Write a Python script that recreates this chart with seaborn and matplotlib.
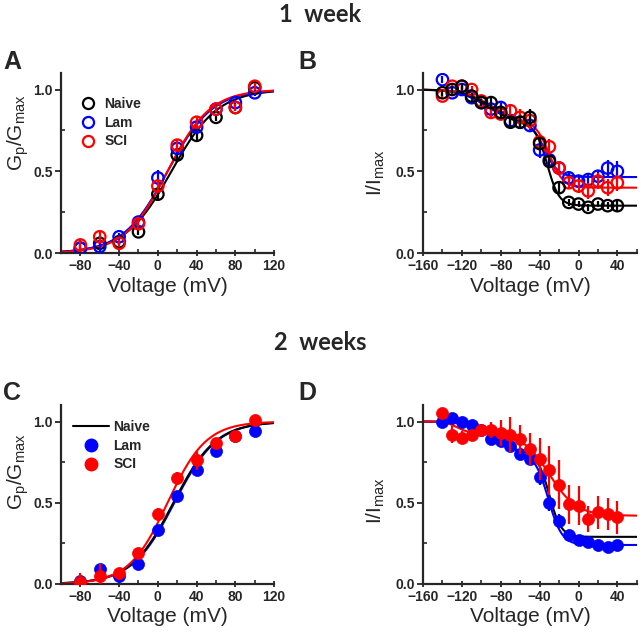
import matplotlib
matplotlib.use("Agg")
import matplotlib.pyplot as plt
from matplotlib.lines import Line2D
from matplotlib.ticker import MultipleLocator
import seaborn as sns
import numpy as np

# voltages (mV)
v_act = [-80, -60, -40, -20, 0, 20, 40, 60, 80, 100]
v_inact = [-140, -130, -120, -110, -100, -90, -80, -70, -60, -50,
           -40, -30, -20, -10, 0, 10, 20, 30, 40]

# 1 week, activation (G/Gmax)
a_naive = [0.03, 0.06, 0.07, 0.13, 0.36, 0.60, 0.72, 0.83, 0.89, 1.01]
a_naive_err = [0.02, 0.03, 0.02, 0.02, 0.03, 0.03, 0.03, 0.02, 0.02, 0.02]
a_lam = [0.03, 0.04, 0.10, 0.19, 0.46, 0.64, 0.77, 0.88, 0.92, 0.98]
a_lam_err = [0.02, 0.03, 0.02, 0.02, 0.05, 0.03, 0.03, 0.02, 0.02, 0.02]
a_sci = [0.05, 0.10, 0.06, 0.18, 0.41, 0.66, 0.80, 0.88, 0.89, 1.02]
a_sci_err = [0.03, 0.04, 0.02, 0.03, 0.03, 0.03, 0.03, 0.02, 0.02, 0.02]

# 1 week, inactivation (I/Imax)
b_naive = [0.98, 1.00, 1.02, 0.96, 0.92, 0.92, 0.86, 0.80, 0.80, 0.83,
           0.67, 0.56, 0.40, 0.31, 0.30, 0.28, 0.30, 0.29, 0.29]
b_naive_err = [0.02, 0.02, 0.02, 0.02, 0.02, 0.03, 0.03, 0.03, 0.03, 0.05,
               0.03, 0.03, 0.03, 0.02, 0.02, 0.02, 0.02, 0.02, 0.03]
b_lam = [1.06, 0.98, 1.00, 0.95, 0.92, 0.88, 0.89, 0.81, 0.80, 0.78,
         0.63, 0.57, 0.52, 0.46, 0.44, 0.45, 0.47, 0.52, 0.50]
b_lam_err = [0.02, 0.02, 0.02, 0.02, 0.03, 0.03, 0.03, 0.03, 0.03, 0.03,
             0.05, 0.03, 0.03, 0.04, 0.04, 0.04, 0.04, 0.05, 0.06]
b_sci = [0.96, 1.02, 1.02, 1.00, 0.93, 0.86, 0.85, 0.87, 0.83, 0.81,
         0.68, 0.65, 0.52, 0.43, 0.41, 0.38, 0.44, 0.40, 0.43]
b_sci_err = [0.02, 0.02, 0.02, 0.02, 0.03, 0.04, 0.03, 0.04, 0.05, 0.05,
             0.05, 0.05, 0.04, 0.04, 0.04, 0.05, 0.05, 0.05, 0.05]

# 2 weeks, activation
c_lam = [0.02, 0.09, 0.05, 0.12, 0.33, 0.54, 0.70, 0.82, 0.91, 0.94]
c_lam_err = [0.02, 0.02, 0.02, 0.02, 0.02, 0.03, 0.02, 0.02, 0.02, 0.02]
c_sci = [0.01, 0.05, 0.07, 0.19, 0.43, 0.65, 0.76, 0.87, 0.91, 1.01]
c_sci_err = [0.06, 0.07, 0.02, 0.02, 0.04, 0.04, 0.06, 0.02, 0.02, 0.02]

# 2 weeks, inactivation
d_lam = [1.00, 1.02, 1.00, 0.98, 0.95, 0.89, 0.88, 0.85, 0.80, 0.77,
         0.66, 0.50, 0.39, 0.30, 0.27, 0.26, 0.24, 0.23, 0.24]
d_lam_err = [0.02, 0.02, 0.02, 0.02, 0.02, 0.03, 0.03, 0.03, 0.03, 0.03,
             0.05, 0.05, 0.04, 0.03, 0.02, 0.02, 0.02, 0.02, 0.02]
d_sci = [1.05, 0.92, 0.90, 0.92, 0.95, 0.95, 0.93, 0.92, 0.89, 0.83,
         0.77, 0.70, 0.61, 0.49, 0.48, 0.40, 0.44, 0.43, 0.41]
d_sci_err = [0.02, 0.05, 0.04, 0.03, 0.03, 0.05, 0.08, 0.11, 0.09, 0.10,
             0.13, 0.15, 0.15, 0.12, 0.12, 0.08, 0.10, 0.10, 0.10]

# Boltzmann fit parameters: (V1/2, k)
fit_a = {"Naive": (14, 24), "Lam": (10, 23), "SCI": (10, 22)}
fit_c = {"Naive": (16, 22), "Lam": (17, 22), "SCI": (10, 20)}
# double Boltzmann for inactivation: (bottom, a1, v1, k1, v2, k2)
fit_b = {"Naive": (0.29, 0.22, -90, 14, -32, 6),
         "Lam": (0.465, 0.20, -95, 14, -35, 7),
         "SCI": (0.40, 0.20, -90, 14, -30, 7)}
fit_d = {"Naive": (0.29, 0.20, -85, 12, -30, 6),
         "Lam": (0.24, 0.20, -85, 12, -31, 7),
         "SCI": (0.42, 0.07, -125, 6, -30, 14)}

colors = {"Naive": "black", "Lam": "#0000ff", "SCI": "#ff0000"}


def boltz(v, vh, k):
    return 1 / (1 + np.exp((vh - v) / k))


def inact(v, b, a1, v1, k1, v2, k2):
    a2 = 1 - b - a1
    return b + a1 / (1 + np.exp((v - v1) / k1)) + a2 / (1 + np.exp((v - v2) / k2))


sns.set_style("ticks")
plt.rcParams['font.family'] = ['Liberation Sans', 'DejaVu Sans']
plt.rcParams['mathtext.fontset'] = 'custom'
plt.rcParams['mathtext.rm'] = 'Liberation Sans'
plt.rcParams['mathtext.it'] = 'Liberation Sans'

fig = plt.figure(figsize=(6.4, 6.36), dpi=100)
axA = fig.add_axes([0.0953, 0.602, 0.333, 0.283])
axB = fig.add_axes([0.661, 0.602, 0.334, 0.283])
axC = fig.add_axes([0.0953, 0.0818, 0.333, 0.281])
axD = fig.add_axes([0.661, 0.0818, 0.334, 0.281])

xa = np.linspace(-100, 120, 221)
xb = np.linspace(-160, 60, 221)


def points(ax, x, y, err, c, filled, z):
    ax.errorbar(x, y, yerr=err, fmt='none', ecolor=c, elinewidth=1.6,
                capsize=0, zorder=z)
    if filled:
        sns.scatterplot(x=x, y=y, ax=ax, color=c, edgecolor=c, s=75,
                        linewidth=0.5, zorder=z + 0.5, legend=False)
    else:
        sns.scatterplot(x=x, y=y, ax=ax, color=c, facecolor='none',
                        edgecolor=c, s=68, linewidth=1.6, zorder=z + 0.5,
                        legend=False)


# A
for g, z in [("Naive", 3), ("Lam", 4), ("SCI", 5)]:
    sns.lineplot(x=xa, y=boltz(xa, *fit_a[g]), ax=axA, color=colors[g], lw=1.5, zorder=2)
points(axA, v_act, a_naive, a_naive_err, colors["Naive"], False, 3)
points(axA, v_act, a_lam, a_lam_err, colors["Lam"], False, 4)
points(axA, v_act, a_sci, a_sci_err, colors["SCI"], False, 5)

# B
for g in ["Lam", "SCI", "Naive"]:
    sns.lineplot(x=xb, y=inact(xb, *fit_b[g]), ax=axB, color=colors[g], lw=1.5, zorder=2)
points(axB, v_inact, b_lam, b_lam_err, colors["Lam"], False, 3)
points(axB, v_inact, b_sci, b_sci_err, colors["SCI"], False, 4)
points(axB, v_inact, b_naive, b_naive_err, colors["Naive"], False, 5)

# C
for g in ["Lam", "Naive", "SCI"]:
    sns.lineplot(x=xa, y=boltz(xa, *fit_c[g]), ax=axC, color=colors[g], lw=1.5, zorder=2)
points(axC, v_act, c_lam, c_lam_err, colors["Lam"], True, 3)
points(axC, v_act, c_sci, c_sci_err, colors["SCI"], True, 4)

# D
for g in ["Naive", "Lam", "SCI"]:
    sns.lineplot(x=xb, y=inact(xb, *fit_d[g]), ax=axD, color=colors[g], lw=1.5, zorder=2)
points(axD, v_inact, d_lam, d_lam_err, colors["Lam"], True, 3)
points(axD, v_inact, d_sci, d_sci_err, colors["SCI"], True, 4)

for ax, xl in [(axA, (-100, 120)), (axC, (-100, 120)), (axB, (-160, 60)), (axD, (-160, 60))]:
    ax.set_xlim(*xl)
    ax.set_ylim(0, 1.1)
    ax.xaxis.set_major_locator(MultipleLocator(40))
    ax.xaxis.set_minor_locator(MultipleLocator(20))
    ax.yaxis.set_major_locator(MultipleLocator(0.5))
    ax.yaxis.set_minor_locator(MultipleLocator(0.25))
    ax.set_yticks([0, 0.5, 1.0])
    ax.set_yticklabels(["0.0", "0.5", "1.0"])
    sns.despine(ax=ax)
    for s in ["left", "bottom"]:
        ax.spines[s].set_linewidth(1.6)
    ax.tick_params(which='major', direction='out', length=4, width=1.3,
                   labelsize=10, pad=2)
    ax.tick_params(which='minor', direction='in', length=3, width=1.2)
    ax.tick_params(axis='x', which='major', direction='inout', length=5)
    for t in ax.get_xticklabels() + ax.get_yticklabels():
        t.set_fontweight('bold')
    ax.set_xlabel("Voltage (mV)", fontsize=15)
    ax.xaxis.set_label_coords(0.5, -0.13)

axA.set_xticks([-80, -40, 0, 40, 80, 120])
axC.set_xticks([-80, -40, 0, 40, 80, 120])
for ax in (axA, axC):
    for t in ax.get_xticklabels():
        t.set_fontweight('bold')

axA.set_ylabel(r"G$_\mathrm{p}$/G$_\mathrm{max}$", fontsize=15)
axC.set_ylabel(r"G$_\mathrm{p}$/G$_\mathrm{max}$", fontsize=15)
axB.set_ylabel(r"I/I$_\mathrm{max}$", fontsize=15)
axD.set_ylabel(r"I/I$_\mathrm{max}$", fontsize=15)
axA.yaxis.set_label_coords(-0.14, 0.67)
axC.yaxis.set_label_coords(-0.14, 0.63)
axB.yaxis.set_label_coords(-0.17, 0.45)
axD.yaxis.set_label_coords(-0.17, 0.47)

# legends
hA = [Line2D([], [], ls='none', marker='o', mfc='none', mec=colors[g], mew=1.6,
             ms=8, label=g) for g in ["Naive", "Lam", "SCI"]]
axA.legend(handles=hA, loc='upper left', bbox_to_anchor=(0.06, 0.90), frameon=False,
           prop={'weight': 'bold', 'size': 10}, handletextpad=0.6, labelspacing=0.35,
           handlelength=1.2, borderaxespad=0)
hC = [Line2D([], [], color='black', lw=1.5, label="Naive")] + \
     [Line2D([], [], ls='none', marker='o', mfc=colors[g], mec=colors[g], ms=9, label=g)
      for g in ["Lam", "SCI"]]
axC.legend(handles=hC, loc='upper left', bbox_to_anchor=(0.03, 0.95), frameon=False,
           prop={'weight': 'bold', 'size': 10}, handletextpad=0.3, labelspacing=0.35,
           handlelength=2.6, borderaxespad=0)

# titles and panel letters
fig.text(0.5, 0.977, "1  week", ha='center', va='center', fontsize=17,
         fontweight='bold', family=['Lato', 'DejaVu Sans'])
fig.text(0.5, 0.462, "2  weeks", ha='center', va='center', fontsize=17,
         fontweight='bold', family=['Lato', 'DejaVu Sans'])
for x, y, s in [(0.019, 0.902, "A"), (0.48, 0.902, "B"),
                (0.019, 0.382, "C"), (0.48, 0.382, "D")]:
    fig.text(x, y, s, ha='center', va='center', fontsize=18, fontweight='bold')

fig.savefig("out.png", dpi=100)
